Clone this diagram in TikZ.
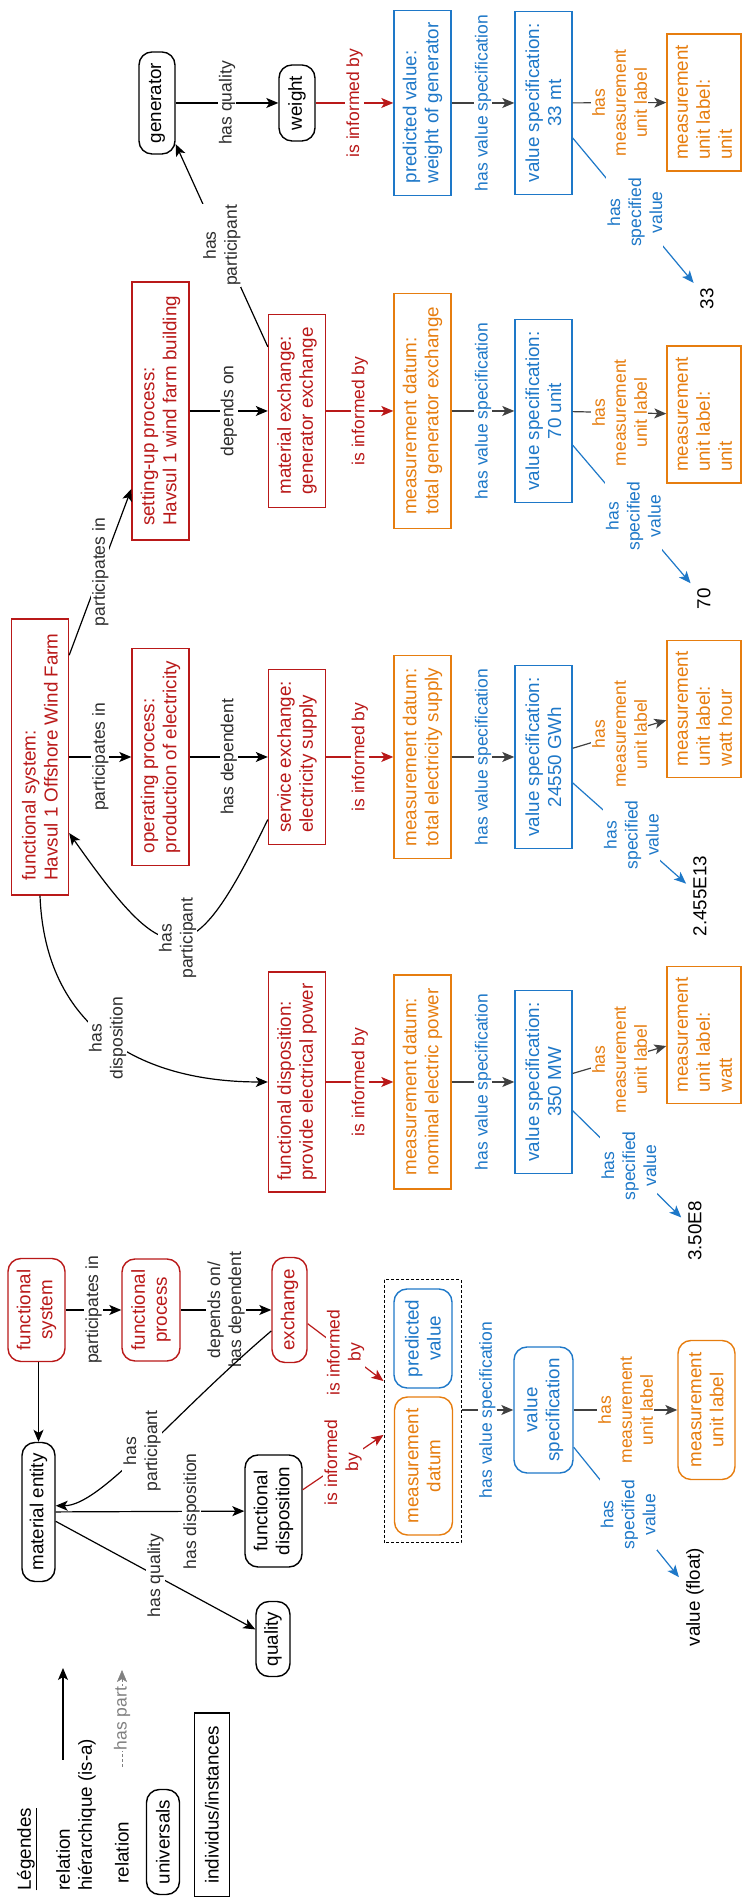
\documentclass[tikz,border=0pt]{standalone}
\usepackage{fontspec}
\setmainfont{Liberation Sans}
\usepackage{tikz}
\usetikzlibrary{arrows.meta,positioning,calc}
\definecolor{myred}{RGB}{185,25,25}
\definecolor{myorange}{RGB}{230,125,15}
\definecolor{myblue}{RGB}{30,120,200}
\definecolor{mygray}{RGB}{64,64,64}
\definecolor{mytext}{RGB}{45,45,45}

\begin{document}
\begin{tikzpicture}[rotate=90, transform shape, x=1pt, y=1pt,
  font=\fontsize{18.8}{22}\selectfont,
  >={Stealth[length=12pt,width=10pt,inset=3pt]},
  univ/.style={draw, rounded corners=13pt, line width=1.4pt, align=center, inner sep=3pt},
  inst/.style={draw, line width=1.4pt, align=left, inner sep=3pt, minimum height=57pt},
  lab/.style={fill=white, inner sep=1pt, align=center, text=mytext,
              font=\fontsize{17.5}{21}\selectfont},
  rel/.style={->, line width=1.2pt},
  inform/.style={->, line width=1.2pt, myred},
  valspec/.style={->, line width=1.2pt, mygray},
  specval/.style={->, line width=1.2pt, myblue}]
  \useasboundingbox (0,0) rectangle (1897,-742);

  % legend
  \node[anchor=west] (legtitle) at (3,-27) {\underline{Légendes}};
  \node[anchor=west, align=left] (leghier) at (3,-76) {relation\\hiérarchique (is-a)};
  \coordinate (isaA) at (137,-63);
  \coordinate (isaB) at (229,-63);
  \draw[rel] (isaA) -- (isaB);
  \node[anchor=west] (legrel) at (10,-122) {relation};
  \coordinate (partA) at (130,-122);
  \coordinate (partB) at (227,-122);
  \draw[->, gray, dash pattern=on 3pt off 2pt] (partA) -- node[lab, text=gray]{has part} (partB);
  \node[univ, minimum width=105, minimum height=33] (leguniv) at (55,-163) {universals};
  \node[inst, minimum width=184, minimum height=35] (leginst) at (92,-212) {individus/instances};

  % generic schema
  \node[univ, myred, minimum width=103, minimum height=57] (gfs) at (587,-36.5) {functional\\system};
  \node[univ, myred, minimum width=102, minimum height=58] (gfp) at (587,-151) {functional\\process};
  \node[univ, myred, minimum width=105, minimum height=35] (gex) at (587,-289.5) {exchange};
  \node[univ, minimum width=139, minimum height=33] (gme) at (385,-38.5) {material entity};
  \node[univ, minimum width=112, minimum height=57] (gfd) at (386,-273.5) {functional\\disposition};
  \node[univ, minimum width=75, minimum height=34] (gqual) at (258,-273) {quality};
  \node[draw, line width=1pt, dash pattern=on 3pt off 2pt, minimum width=263,
        minimum height=77] (gbox) at (485.5,-422.5) {};
  \node[univ, myorange, minimum width=138, minimum height=58] (gmd) at (431,-423.5) {measurement\\datum};
  \node[univ, myblue, minimum width=99, minimum height=58] (gpv) at (558.5,-423) {predicted\\value};
  \node[univ, myblue, minimum width=126, minimum height=59] (gvs) at (487,-543.5) {value\\specification};
  \node[univ, myorange, minimum width=139, minimum height=57] (gmul) at (487,-706.5) {measurement\\unit label};
  \node (gval) at (300,-695) {value (float)};

  \draw[rel] (gfs.west |- gme.east) -- (gme.east);
  \draw[rel] (gfs) -- node[lab]{participates in} (gfp);
  \draw[rel] (gfp) -- node[lab]{depends on/\\has dependent} (gex);
  \draw[rel] (gex.139) .. controls +(-87,102) and +(0,-45) .. node[lab]{has\\participant} (gme.-70);
  \draw[rel] (gme) -- node[lab, pos=0.72]{has disposition} (gfd);
  \draw[rel] (gme) -- node[lab]{has quality} (gqual);
  \draw[inform] (gfd.-54) -- node[lab, text=myred]{is informed\\by} (gbox.121);
  \draw[inform] (gex.-127) -- node[lab, text=myred]{is informed\\by} (gbox.52.5);
  \draw[valspec] (gbox.south -| gvs.north) -- node[lab, text=myblue]{has value specification} (gvs.north);
  \draw[valspec] (gvs) -- node[lab, text=myorange]{has\\measurement\\unit label} (gmul);
  \draw[specval, shorten >=6pt] (gvs) -- node[lab, text=myblue]{has\\specified\\value} (gval);

  % instances
  \node[inst, myred, minimum width=276] (fs) at (1140,-40) {functional system:\\Havsul 1 Offshore Wind Farm};
  \node[inst, myred, minimum width=217] (op) at (1140,-160.5) {operating process:\\production of electricity};
  \node[inst, myred, minimum width=258] (sp) at (1486,-160.5) {setting-up process:\\Havsul 1 wind farm building};
  \node[inst, myred, minimum width=220] (fdp) at (815,-297) {functional disposition:\\provide electrical power};
  \node[inst, myred, minimum width=175] (se) at (1140,-297) {service exchange:\\electricity supply};
  \node[inst, myred, minimum width=193] (mex) at (1486,-297) {material exchange:\\generator exchange};
  \node[univ, minimum width=102, minimum height=36] (gen) at (1794,-157) {generator};
  \node[univ, minimum width=76, minimum height=36] (wgt) at (1794,-297) {weight};

  \node[inst, myorange, minimum width=214] (mdnp) at (815,-422.5) {measurement datum:\\nominal electric power};
  \node[inst, myorange, minimum width=203] (mdes) at (1140,-422.5) {measurement datum:\\total electricity supply};
  \node[inst, myorange, minimum width=235] (mdge) at (1486,-422.5) {measurement datum:\\total generator exchange};
  \node[inst, myblue, minimum width=185] (pvwg) at (1794,-422.5) {predicted value:\\weight of generator};

  \node[inst, myblue, align=center, minimum width=183] (vsd) at (815,-543.5) {value specification:\\350 MW};
  \node[inst, myblue, align=center, minimum width=183] (vsa) at (1140,-543.5) {value specification:\\24550 GWh};
  \node[inst, myblue, align=center, minimum width=183] (vsb) at (1486,-543.5) {value specification:\\70 unit};
  \node[inst, myblue, align=center, minimum width=183] (vsc) at (1794,-543.5) {value specification:\\33 mt};

  \node[inst, myorange, minimum width=137, minimum height=74] (muld) at (862,-704) {measurement\\unit label:\\watt};
  \node[inst, myorange, minimum width=137, minimum height=74] (mula) at (1188,-704) {measurement\\unit label:\\watt hour};
  \node[inst, myorange, minimum width=137, minimum height=74] (mulb) at (1482.5,-704) {measurement\\unit label:\\unit};
  \node[inst, myorange, minimum width=137, minimum height=74] (mulc) at (1794.5,-704) {measurement\\unit label:\\unit};

  \node (vald) at (666,-695) {3.50E8};
  \node (vala) at (1001,-700) {2.455E13};
  \node (valb) at (1298,-704) {70};
  \node (valc) at (1598,-707) {33};

  \draw[rel] (fs) -- node[lab]{participates in} (op);
  \draw[rel] (fs.-16) -- node[lab]{participates in} (sp);
  \draw[rel] (op) -- node[lab]{has dependent} (se);
  \draw[rel] (sp) -- node[lab]{depends on} (mex);
  \draw[rel] (se.155) .. controls +(-156,76) and +(-142,-100) .. node[lab]{has\\participant} (fs.201);
  \draw[rel] (fs.west) .. controls +(-132,-5) and +(0,128.5) .. node[lab]{has\\disposition} (fdp.north);
  \draw[rel] (mex) -- node[lab]{has\\participant} (gen);
  \draw[rel] (gen) -- node[lab]{has quality} (wgt);

  \foreach \src/\dst in {fdp/mdnp, se/mdes, mex/mdge, wgt/pvwg}
    \draw[inform] (\src) -- node[lab, text=myred]{is informed by} (\dst);
  \foreach \src/\dst in {mdnp/vsd, mdes/vsa, mdge/vsb, pvwg/vsc}
    \draw[valspec] (\src) -- node[lab, text=myblue]{has value specification} (\dst);
  \foreach \src/\dst in {vsd/muld, vsa/mula, vsb/mulb, vsc/mulc}
    \draw[valspec] (\src) -- node[lab, text=myorange]{has\\measurement\\unit label} (\dst);
  \foreach \src/\dst in {vsd/vald, vsa/vala, vsb/valb, vsc/valc}
    \draw[specval, shorten >=5pt] (\src) -- node[lab, text=myblue]{has\\specified\\value} (\dst);
\end{tikzpicture}
\end{document}
